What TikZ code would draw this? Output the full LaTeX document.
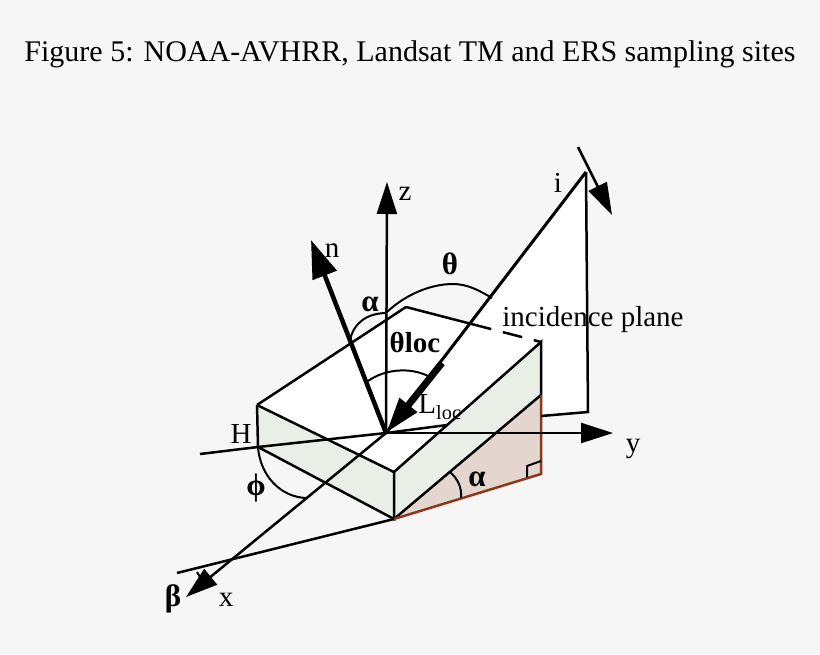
\documentclass[tikz,border=0pt]{standalone}
\usepackage{fontspec}
\setmainfont{Liberation Serif}
\usetikzlibrary{arrows.meta}
\definecolor{pagegrey}{HTML}{F6F6F6}
\definecolor{sidegreen}{HTML}{E9EEE6}
\definecolor{wedgebrown}{HTML}{E4D5CE}
\definecolor{edgebrown}{HTML}{8A3A1C}
\tikzset{
	lab/.style={inner sep=0pt,font=\fontsize{29}{32}\selectfont},
	blab/.style={inner sep=0pt,font=\fontsize{31}{34}\selectfont\bfseries},
	edge/.style={draw=black,line width=2.5pt},
	thinarc/.style={draw=black,line width=2pt},
	axis/.style={-{Triangle[length=32pt,width=20pt]},line width=2.5pt},
	normal/.style={-{Triangle[length=38pt,width=25pt]},line width=4.5pt},
	local/.style={-{Triangle[length=36pt,width=21pt]},line width=7pt}
}
\begin{document}
\begin{tikzpicture}[x=1pt,y=-1pt]
\fill[pagegrey] (0,0) rectangle (820,654);
\useasboundingbox (0,0) rectangle (820,654);
% corners
\coordinate (O) at (386,433);
\coordinate (Ztop) at (387,182);
\coordinate (Ntop) at (311,240);
\coordinate (Ytop) at (613,433);
\coordinate (Xtop) at (186,597);
\coordinate (Itop) at (586,172);
\coordinate (Ifoot) at (588,412);
\coordinate (Iback) at (541,416);
\coordinate (Istart) at (578,147);
\coordinate (Itip) at (612,215);
\coordinate (Lstart) at (442,363);
\coordinate (Lhide) at (447,425);
\coordinate (Hstart) at (200,454);
\coordinate (Bstart) at (177,573);
\coordinate (A) at (257,405);
\coordinate (B) at (406,307);
\coordinate (C) at (541,342);
\coordinate (D) at (394,472);
\coordinate (E) at (258,447);
\coordinate (F) at (394,519);
\coordinate (G) at (541,395);
\coordinate (K) at (541,474);
% faces
\fill[white] (O) -- (Itop) -- (Ifoot) -- (Iback) -- cycle;
\fill[white] (A) -- (B) -- (C) -- (D) -- cycle;
\fill[sidegreen] (A) -- (D) -- (F) -- (E) -- cycle;
\fill[sidegreen] (D) -- (C) -- (G) -- (F) -- cycle;
\fill[wedgebrown] (F) -- (G) -- (K) -- cycle;
% block
\draw[edge] (A) -- (B);
\draw[edge,dash pattern=on 88pt off 12pt on 20pt off 12pt on 10pt off 20pt] (B) -- (C);
\draw[edge] (A) -- (D) -- (C) -- (G);
\draw[edge] (A) -- (E) -- (F) -- (D);
\draw[edge] (F) -- (G);
\draw[edge,edgebrown] (F) -- (K) -- (G);
% incidence plane
\draw[edge] (Itop) -- (Ifoot) -- (Iback);
\draw[edge,line width=3pt] (O) -- (Itop);
\draw[edge] (Hstart) -- (E) -- (O) -- (Lhide);
\draw[edge] (Bstart) -- (F);
% axes
\draw[axis] (O) -- (Ztop);
\draw[axis] (O) -- (Ytop);
\draw[axis] (O) -- (Xtop);
\draw[axis] (Istart) -- (Itip);
\draw[normal] (O) -- (Ntop);
\draw[local] (Lstart) -- (O);
% arcs
\draw[thinarc] (387,312) .. controls (405,295) and (430,284) .. (453,284) .. controls (468,284) and (480,291) .. (492,298);
\draw[thinarc] (350,340) .. controls (354,322) and (368,313) .. (387,313);
\draw[thinarc] (368,381) .. controls (385,369) and (410,367) .. (428,376);
\draw[thinarc] (258,447) .. controls (260,475) and (280,497) .. (306,498);
\draw[thinarc] (450,472) .. controls (458,479) and (462,488) .. (461,498);
\draw[thinarc] (197,572) -- (200,577);
\draw[thinarc] (527,477) -- (527,466) -- (541,461);
% labels
\node[lab] (zlab) at (405,194) {z};
\node[lab] (nlab) at (332,251) {n};
\node[lab] (ilab) at (558,183) {i};
\node[lab] (ylab) at (633,449) {y};
\node[lab] (xlab) at (226,600) {x};
\node[lab] (hlab) at (241,434) {H};
\node[lab] (llab) at (440,407) {L\textsubscript{loc}};
\node[lab] (planelab) at (593,320) {incidence plane};
\node[blab] (thetalab) at (450,264) {θ};
\node[blab] (alphalab) at (370,304) {α};
\node[blab,font=\fontsize{29}{32}\selectfont\bfseries] (thlocbox) at (415,342) {θloc};
\node[blab] (philab) at (256,488) {ϕ};
\node[blab] (betalab) at (173,599) {β};
\node[blab] (wedgelab) at (477,479) {α};
\node[lab,font=\fontsize{30}{32}\selectfont] (title) at (410,54) {Figure 5: NOAA-AVHRR, Landsat TM and ERS sampling sites};
\end{tikzpicture}
\end{document}
